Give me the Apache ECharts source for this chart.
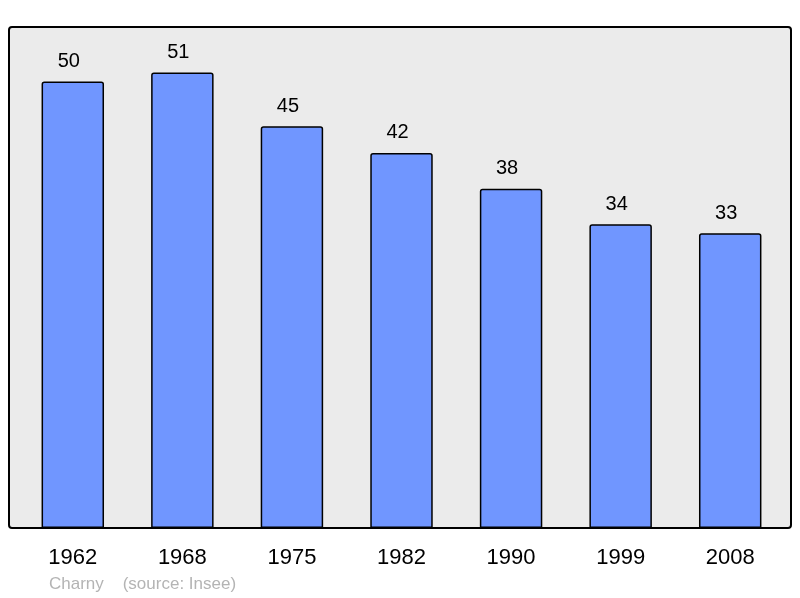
<!DOCTYPE html>
<html><head><meta charset="utf-8">
<script src="https://cdn.jsdelivr.net/npm/echarts@6/dist/echarts.min.js"></script>
<style>html,body{margin:0;padding:0;background:#fff}#c{width:800px;height:598px}</style>
</head><body><div id="c"></div>
<script>
const years = ['1962','1968','1975','1982','1990','1999','2008'];
const population = [50, 51, 45, 42, 38, 34, 33];
const footer = 'Charny    (source: Insee)';

const chart = echarts.init(document.getElementById('c'), null, {renderer:'canvas'});
chart.setOption({
  animation: false,
  textStyle: {fontFamily: 'Liberation Sans, Arial, sans-serif'},
  graphic: [
    {type:'rect', z:-10, shape:{x:9, y:27, width:782, height:501, r:3},
     style:{fill:'#ebebeb', stroke:'#000', lineWidth:2}},
    {type:'text', left:49, top:576, style:{text: footer, fill:'#b4b4b4', fontSize:17, fontFamily:'Liberation Sans, Arial, sans-serif'}}
  ],
  grid: {left:18, right:15, top:27, bottom:70, containLabel:false},
  xAxis: {
    type:'category', data: years,
    axisLine:{show:false}, axisTick:{show:false},
    axisLabel:{color:'#000', fontSize:22, margin:19}
  },
  yAxis: {type:'value', min:0, max:56.1, show:false, splitLine:{show:false}},
  series: [{
    type:'bar', data: population, barCategoryGap:'43%',
    itemStyle:{color:'#7096ff', borderColor:'#000', borderWidth:1.5, borderRadius:[2,2,0,0]},
    label:{show:true, position:'top', distance:10, offset:[-4,0], color:'#000', fontSize:20}
  }]
});
</script></body></html>
